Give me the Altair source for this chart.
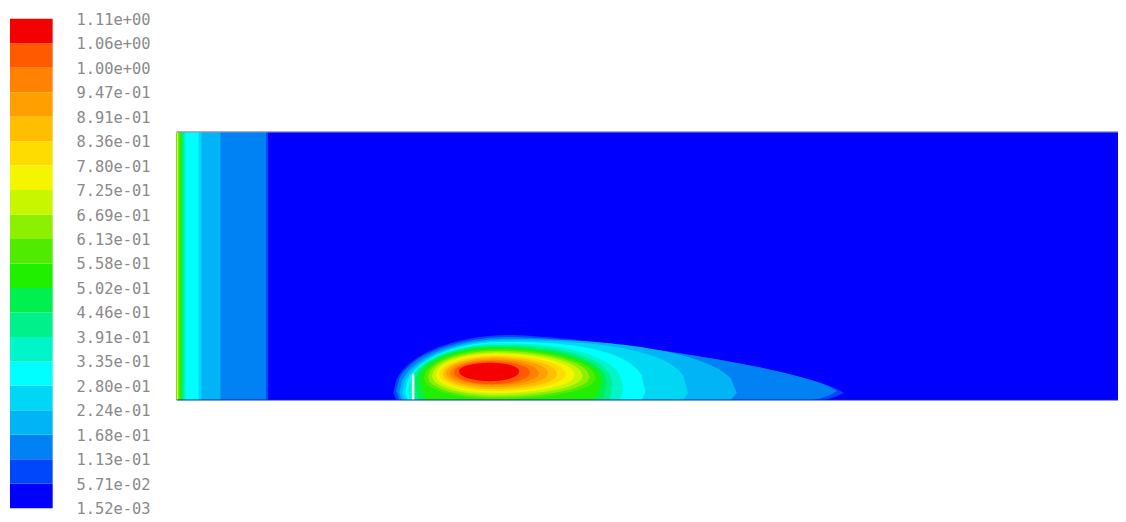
import altair as alt
import numpy as np
import pandas as pd

# ---- colour bar: 21 contour levels, 20 bands (bottom -> top) ----
level_labels = ["1.52e-03", "5.71e-02", "1.13e-01", "1.68e-01", "2.24e-01",
                "2.80e-01", "3.35e-01", "3.91e-01", "4.46e-01", "5.02e-01",
                "5.58e-01", "6.13e-01", "6.69e-01", "7.25e-01", "7.80e-01",
                "8.36e-01", "8.91e-01", "9.47e-01", "1.00e+00", "1.06e+00",
                "1.11e+00"]
band_colors = ["#0000FF", "#0046FA", "#0082F5", "#00B4F5", "#00D7F5",
               "#00FFFF", "#00F5C8", "#00F08C", "#00F050", "#20F000",
               "#50EB00", "#8CF000", "#C8F500", "#F5F500", "#FFDC00",
               "#FFBE00", "#FFA000", "#FF8200", "#FF5A00", "#F50000"]

# ---- domain size (data units) ----
domain_len = 948
domain_h = 270

# ---- inlet bands: band index and right edge (x from inlet) ----
inlet_band = [1, 2, 3, 4, 5, 6, 7, 9, 10, 13]
inlet_x_end = [92, 90, 44, 25, 22, 9, 7, 5, 3.5, 1.5]

# ---- plume contours behind the baffle (band 1..19) ----
plume_band = list(range(1, 20))
plume_xl = [218, 221, 224, 227, 230, 233, 236, 240, 245, 249, 253, 257, 261, 264, 268, 271, 275, 279, 284]
plume_xc = [337, 337, 334, 332, 329, 327, 325, 324, 322, 322, 322, 322, 322, 321, 320, 319, 318, 317, 316]
plume_xr = [672, 665, 564, 515, 472, 450, 439, 433, 428, 422, 416, 409, 401, 392, 383, 374, 365, 356, 345]
plume_top = [65.5, 63.5, 61.5, 60, 58.5, 57, 55.5, 54, 52.5, 51, 49.5, 48, 46.5, 45, 43.5, 42, 40.5, 39, 37.5]
plume_mid = [7, 9, 7, 7, 8, 11, 15, 18, 20, 22, 23, 24, 25, 26, 26, 27, 27, 28, 29]
plume_low = [-40, -40, -40, -40, -40, -40, -40, -40, -30, 1, 3, 5, 7, 9, 11, 13, 15, 16, 19]
plume_pr = [1.35, 1.4, 2.2, 2.5, 2.5, 2.3, 2.2, 2.1, 2, 2, 2, 2, 2, 2, 2, 2, 2, 2, 2]

baffle_x = 238
baffle_h = 25

# ---- build contour outlines from the parameters ----
rows = []
s = np.linspace(0, 1, 60)
tt = 1 - np.cos(s * np.pi / 2)  # denser near the tips
for b, xl, xc, xr, top, mid, low, pr in zip(plume_band, plume_xl, plume_xc, plume_xr,
                                             plume_top, plume_mid, plume_low, plume_pr):
    for side, p in (("l", 2.0), ("r", pr)):
        for t in tt:
            f = (1 - t ** p) ** (1 / p)
            x = xc - t * (xc - xl) if side == "l" else xc + t * (xr - xc)
            ytop = mid + (top - mid) * f
            ybot = max(0.0, mid - (mid - low) * f)
            rows.append({"band": b, "x": x, "top": ytop, "bot": ybot})
plume_df = pd.DataFrame(rows)

xs = alt.Scale(domain=[0, domain_len], range=[170, 1118], nice=False, zero=False)
ys = alt.Scale(domain=[0, domain_h], range=[393, 123], nice=False, zero=False)

layers = []
bg = pd.DataFrame({"x0": [0], "x1": [domain_len], "y0": [0], "y1": [domain_h]})
layers.append(alt.Chart(bg).mark_rect(color=band_colors[0]).encode(
    x=alt.X("x0:Q", scale=xs, axis=None), x2="x1:Q",
    y=alt.Y("y0:Q", scale=ys, axis=None), y2="y1:Q"))

for b, xe in zip(inlet_band, inlet_x_end):
    d = pd.DataFrame({"x0": [0], "x1": [xe], "y0": [0], "y1": [domain_h]})
    layers.append(alt.Chart(d).mark_rect(color=band_colors[b]).encode(
        x=alt.X("x0:Q", scale=xs, axis=None), x2="x1:Q",
        y=alt.Y("y0:Q", scale=ys, axis=None), y2="y1:Q"))

for b in plume_band:
    layers.append(alt.Chart(plume_df[plume_df.band == b]).mark_area(
        color=band_colors[b], interpolate="linear").encode(
        x=alt.X("x:Q", scale=xs, axis=None),
        y=alt.Y("top:Q", scale=ys, axis=None), y2="bot:Q"))

# baffle
bf = pd.DataFrame({"x": [baffle_x], "y0": [0], "y1": [baffle_h]})
layers.append(alt.Chart(bf).mark_rule(color="white", strokeWidth=2.5, strokeCap="round").encode(
    x=alt.X("x:Q", scale=xs, axis=None),
    y=alt.Y("y0:Q", scale=ys, axis=None), y2="y1:Q"))

# domain edges
edges = pd.DataFrame({"x0": [0, 0], "x1": [domain_len, domain_len], "y": [domain_h, 0],
                      "c": ["#9090C8", "#1A2A9A"]})
layers.append(alt.Chart(edges).mark_rule(strokeWidth=1.2).encode(
    x=alt.X("x0:Q", scale=xs, axis=None), x2="x1:Q",
    y=alt.Y("y:Q", scale=ys, axis=None),
    color=alt.Color("c:N", scale=None)))

# colour bar
cb = pd.DataFrame({"lo": list(range(20)), "hi": list(range(1, 21)), "c": band_colors})
cbs = alt.Scale(domain=[0, 20], range=[502, 9], nice=False, zero=False)
layers.append(alt.Chart(cb).mark_rect().encode(
    x=alt.value(2), x2=alt.value(45),
    y=alt.Y("lo:Q", scale=cbs, axis=None), y2="hi:Q",
    color=alt.Color("c:N", scale=None)))

lb = pd.DataFrame({"pos": list(range(21)), "label": level_labels})
layers.append(alt.Chart(lb).mark_text(
    align="left", baseline="middle", font="DejaVu Sans Mono", fontSize=15.5,
    color="#8A8A8A", dy=1).encode(
    x=alt.value(69),
    y=alt.Y("pos:Q", scale=cbs, axis=None),
    text="label:N"))

chart = alt.layer(*layers).resolve_scale(x="independent", y="independent").properties(
    width=1118, height=512,
    autosize=alt.AutoSizeParams(type="none"),
    padding={"left": 0, "top": 0, "right": 0, "bottom": 0},
    background="white",
).configure_view(stroke=None)

chart.save("out.html", embed_options={"renderer": "svg", "actions": False})
